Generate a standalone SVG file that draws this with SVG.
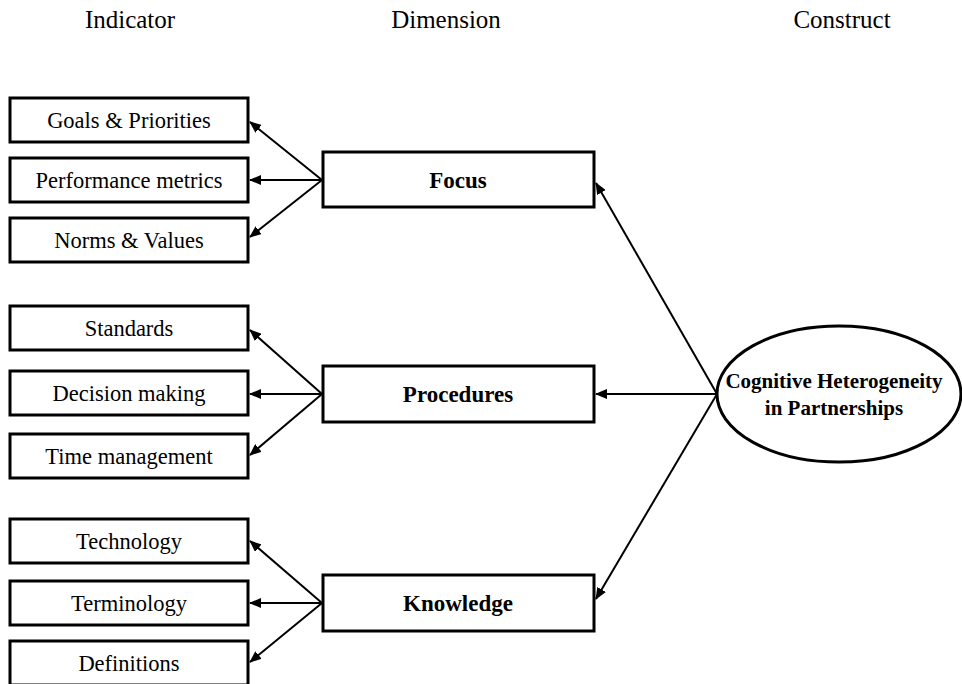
<svg xmlns="http://www.w3.org/2000/svg" width="962" height="684" viewBox="0 0 962 684">
  <defs>
    <marker id="arrow" viewBox="0 0 12 10" refX="11" refY="5" markerWidth="12" markerHeight="10" markerUnits="userSpaceOnUse" orient="auto">
      <path d="M0,0 L12,5 L0,10 z" fill="#000"/>
    </marker>
    <style>
      .box { fill: #fff; stroke: #000; stroke-width: 3; }
      .head { font-family: "Liberation Serif", "Times New Roman", serif; font-size: 25px; fill: #000; text-anchor: middle; }
      .ind { font-family: "Liberation Serif", "Times New Roman", serif; font-size: 22.5px; fill: #000; text-anchor: middle; }
      .dim { font-family: "Liberation Serif", "Times New Roman", serif; font-size: 23px; font-weight: bold; fill: #000; text-anchor: middle; }
      .con { font-family: "Liberation Serif", "Times New Roman", serif; font-size: 21px; font-weight: bold; fill: #000; text-anchor: middle; }
      .link { stroke: #000; stroke-width: 2; fill: none; marker-end: url(#arrow); }
    </style>
  </defs>
  <rect width="962" height="684" fill="#fff"/>

  <!-- column headings -->
  <g id="headings">
    <text class="head" x="130" y="28">Indicator</text>
    <text class="head" x="446" y="28">Dimension</text>
    <text class="head" x="842" y="28">Construct</text>
  </g>

  <!-- indicators -->
  <g id="goals-priorities"><rect class="box" x="10" y="98" width="238" height="44"/><text class="ind" x="129" y="128">Goals &amp; Priorities</text></g>
  <g id="performance-metrics"><rect class="box" x="10" y="158" width="238" height="44"/><text class="ind" x="129" y="188">Performance metrics</text></g>
  <g id="norms-values"><rect class="box" x="10" y="218" width="238" height="44"/><text class="ind" x="129" y="248">Norms &amp; Values</text></g>

  <g id="standards"><rect class="box" x="10" y="306" width="238" height="44"/><text class="ind" x="129" y="336">Standards</text></g>
  <g id="decision-making"><rect class="box" x="10" y="371" width="238" height="44"/><text class="ind" x="129" y="401">Decision making</text></g>
  <g id="time-management"><rect class="box" x="10" y="434" width="238" height="44"/><text class="ind" x="129" y="464">Time management</text></g>

  <g id="technology"><rect class="box" x="10" y="519" width="238" height="44"/><text class="ind" x="129" y="549">Technology</text></g>
  <g id="terminology"><rect class="box" x="10" y="581" width="238" height="44"/><text class="ind" x="129" y="611">Terminology</text></g>
  <g id="definitions"><rect class="box" x="10" y="641" width="238" height="44"/><text class="ind" x="129" y="671">Definitions</text></g>

  <!-- dimensions -->
  <g id="focus"><rect class="box" x="323" y="152" width="271" height="55"/><text class="dim" x="458" y="188">Focus</text></g>
  <g id="procedures"><rect class="box" x="323" y="366" width="271" height="56"/><text class="dim" x="458" y="402">Procedures</text></g>
  <g id="knowledge"><rect class="box" x="323" y="575" width="271" height="56"/><text class="dim" x="458" y="611">Knowledge</text></g>

  <!-- construct -->
  <g id="cognitive-heterogeneity">
    <ellipse cx="839" cy="394" rx="122" ry="68" fill="#fff" stroke="#000" stroke-width="3"/>
    <text class="con" x="834" y="388">Cognitive Heterogeneity</text>
    <text class="con" x="834" y="415">in Partnerships</text>
  </g>

  <!-- connectors -->
  <g id="connectors">
    <line class="link" x1="322" y1="180" x2="250" y2="122"/>
    <line class="link" x1="322" y1="180" x2="250" y2="180"/>
    <line class="link" x1="322" y1="180" x2="250" y2="237"/>

    <line class="link" x1="322" y1="394" x2="250" y2="330"/>
    <line class="link" x1="322" y1="394" x2="250" y2="394"/>
    <line class="link" x1="322" y1="394" x2="250" y2="455"/>

    <line class="link" x1="322" y1="603" x2="250" y2="541"/>
    <line class="link" x1="322" y1="603" x2="250" y2="603"/>
    <line class="link" x1="322" y1="603" x2="250" y2="662"/>

    <line class="link" x1="717" y1="394" x2="596" y2="183"/>
    <line class="link" x1="717" y1="394" x2="596" y2="394"/>
    <line class="link" x1="717" y1="394" x2="596" y2="599"/>
  </g>
</svg>
